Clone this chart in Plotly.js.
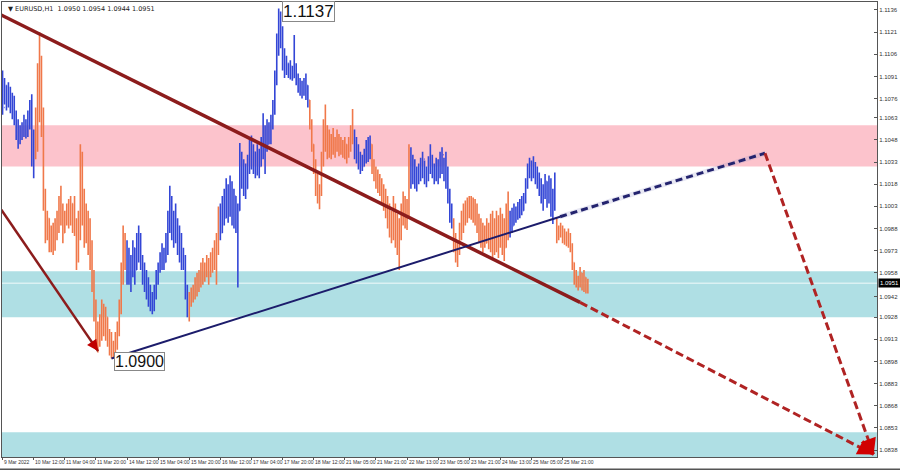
<!DOCTYPE html>
<html><head><meta charset="utf-8">
<script src="https://cdn.plot.ly/plotly-3.0.1.min.js"></script>
<style>html,body{margin:0;padding:0;background:#fff}#chart{width:900px;height:470px}</style>
</head><body><div id="chart"></div>
<script>
// EURUSD H1 bars (index = hourly bar number)
const highs = [
1.1095,1.1090,1.1085,1.1087,1.1084,1.1080,1.1078,1.1068,1.1062,1.1058,1.1060,1.1065,1.1062,1.1068,1.1075,1.1079,1.1055,
1.1070,1.1100,1.1121,1.1105,1.1070,1.1015,1.1000,1.0995,1.0990,1.0992,1.0995,1.1000,1.1010,1.1017,1.1005,1.1000,1.1005,1.1008,1.1010,1.1005,1.1010,1.0995,1.1000,1.1045,1.1040,1.1015,1.1005,1.1000,1.0995,1.0980,1.0960,1.0940,1.0925,1.0930,1.0940,1.0937,1.0935,1.0928,1.0920,1.0918,1.0912,1.0918,1.0925,1.0940,1.0965,1.0990,1.0985,
1.0980,1.0975,1.0970,1.0980,1.0975,1.0985,1.0990,1.0985,1.0970,1.0965,1.0960,1.0955,1.0950,1.0945,1.0950,1.0960,1.0965,1.0972,1.0978,1.0975,1.0985,1.1000,1.1017,1.1010,1.1000,1.1005,1.0995,1.0990,1.0985,1.0975,1.0970,1.0950,
1.0945,1.0948,1.0950,1.0955,1.0958,1.0960,1.0965,1.0968,1.0965,1.0970,1.0968,1.0972,1.0975,1.0980,1.0985,1.1003,
1.1005,1.1010,1.1015,1.1022,1.1018,1.1024,1.1020,1.1015,1.1010,1.1005,1.1046,1.1040,1.1035,1.1032,1.1038,1.1048,1.1051,1.1045,1.1040,1.1045,1.1042,1.1050,1.1066,1.1058,1.1062,1.1060,1.1065,1.1075,1.1095,1.1120,1.1137,1.1135,1.1125,1.1110,1.1105,1.1100,1.1102,1.1098,1.1119,1.1100,1.1093,1.1090,1.1088,1.1090,1.1093,1.1085,
1.1075,1.1062,1.1045,1.1035,1.1025,1.1018,1.1040,1.1062,1.1072,1.1058,1.1055,1.1052,1.1056,1.1050,1.1055,1.1052,1.1050,1.1048,1.1050,1.1045,1.1050,1.1058,1.1069,
1.1055,1.1050,1.1045,1.1040,1.1038,1.1042,1.1048,1.1050,1.1051,
1.1045,1.1035,1.1030,1.1028,1.1025,1.1022,1.1018,1.1015,1.1010,1.1005,1.1000,1.1010,1.1005,1.0998,1.0995,1.1005,1.1013,1.1010,1.1008,1.1045,
1.1043,1.1038,1.1035,1.1030,1.1032,1.1036,1.1040,1.1034,1.1030,1.1037,1.1045,1.1038,1.1032,1.1036,1.1035,1.1040,1.1043,1.1036,1.1040,1.1030,1.1015,1.1005,
1.0995,1.0985,1.0980,1.0992,1.1000,1.1005,1.1007,1.1009,1.1010,1.1010,1.1009,1.1008,1.1005,1.0998,1.0995,1.0992,1.0990,1.0995,1.0992,1.0998,1.1000,1.0995,1.1000,1.0997,1.1002,1.0998,1.0995,1.1005,1.1013,
1.1000,1.1002,1.1005,1.1003,1.1006,1.1008,1.1010,1.1012,1.1022,1.1032,1.1036,1.1034,1.1037,1.1033,1.1030,1.1026,1.1022,1.1018,1.1025,1.1020,1.1024,1.1022,1.1015,1.1026,
1.0995,1.0990,1.0992,1.0990,1.0988,1.0986,1.0988,1.0985,1.0978,1.0965,1.0960,1.0956,1.0962,1.0958,1.0960,1.0955,1.0954
];
const lows = [
1.1065,1.1072,1.1068,1.1070,1.1066,1.1062,1.1058,1.1048,1.1042,1.1045,1.1048,1.1050,1.1049,1.1050,1.1055,1.1030,1.1022,
1.1035,1.1040,1.1060,1.1050,1.1000,1.0978,1.0980,1.0972,1.0972,1.0970,1.0973,1.0980,1.0985,1.0990,1.0978,1.0985,1.0990,1.0988,1.0990,1.0985,1.0983,1.0960,1.0965,1.0980,1.0990,1.0975,1.0978,1.0970,1.0960,1.0945,1.0925,1.0908,1.0904,1.0908,1.0912,1.0915,1.0912,1.0908,1.0902,1.0900,1.0901,1.0903,1.0906,1.0915,1.0930,1.0950,1.0960,
1.0950,1.0950,1.0945,1.0955,1.0950,1.0960,1.0965,1.0960,1.0950,1.0945,1.0940,1.0935,1.0932,1.0930,1.0932,1.0940,1.0950,1.0958,1.0960,1.0960,1.0965,1.0970,1.0985,1.0980,1.0975,1.0978,1.0970,1.0965,1.0960,1.0960,1.0940,1.0928,
1.0925,1.0935,1.0938,1.0940,1.0942,1.0945,1.0948,1.0950,1.0952,1.0955,1.0950,1.0955,1.0958,1.0960,1.0950,1.0970,
1.0980,1.0985,1.0990,1.0995,1.0992,1.0996,1.0990,1.0988,1.0985,1.0948,1.1000,1.1015,1.1010,1.1008,1.1015,1.1025,1.1028,1.1025,1.1022,1.1024,1.1022,1.1030,1.1035,1.1025,1.1040,1.1045,1.1045,1.1055,1.1065,1.1085,1.1105,1.1110,1.1095,1.1090,1.1092,1.1090,1.1089,1.1088,1.1090,1.1085,1.1080,1.1078,1.1076,1.1078,1.1075,1.1070,
1.1055,1.1040,1.1025,1.1010,1.1005,1.1001,1.1010,1.1030,1.1040,1.1035,1.1036,1.1035,1.1038,1.1036,1.1040,1.1037,1.1038,1.1036,1.1035,1.1032,1.1036,1.1040,1.1045,
1.1035,1.1032,1.1028,1.1025,1.1027,1.1030,1.1032,1.1033,1.1035,
1.1025,1.1020,1.1015,1.1012,1.1010,1.1005,1.1000,1.0995,1.0988,1.0982,1.0978,1.0980,1.0975,1.0970,1.0960,1.0980,1.0990,1.0988,1.0987,1.0995,
1.1015,1.1018,1.1015,1.1013,1.1018,1.1020,1.1022,1.1018,1.1016,1.1020,1.1025,1.1022,1.1018,1.1020,1.1018,1.1022,1.1025,1.1020,1.1015,1.1005,1.0992,1.0988,
1.0972,1.0965,1.0962,1.0970,1.0980,1.0985,1.0990,1.0992,1.0995,1.0994,1.0992,1.0990,1.0985,1.0978,1.0975,1.0972,1.0975,1.0978,1.0974,1.0972,1.0968,1.0970,1.0972,1.0968,1.0975,1.0970,1.0966,1.0975,1.0980,
1.0982,1.0985,1.0990,1.0992,1.0994,1.0995,1.0997,1.1000,1.1005,1.1015,1.1022,1.1020,1.1022,1.1018,1.1015,1.1010,1.1005,1.1000,1.1008,1.1002,1.1005,1.0996,1.0991,1.1000,
1.0978,1.0980,1.0982,1.0978,1.0977,1.0976,1.0975,1.0972,1.0960,1.0950,1.0948,1.0946,1.0948,1.0946,1.0945,1.0944,1.0944
];
const opens = [
1.1090,1.1070,1.1085,1.1072,1.1083,1.1070,1.1075,1.1062,1.1052,1.1055,1.1050,1.1057,1.1053,1.1060,1.1065,1.1072,1.1035,
1.1045,1.1065,1.1090,1.1100,1.1058,1.1005,1.0985,1.0995,1.0978,1.0985,1.0975,1.0990,1.0995,1.1005,1.0995,1.0985,1.0995,1.1000,1.0992,1.1005,1.0990,1.0986,1.0968,1.0995,1.1025,1.1000,1.0985,1.0995,1.0975,1.0965,1.0950,1.0930,1.0915,1.0920,1.0925,1.0930,1.0920,1.0928,1.0912,1.0910,1.0905,1.0908,1.0915,1.0920,1.0935,1.0960,1.0980,
1.0965,1.0970,1.0955,1.0965,1.0975,1.0960,1.0980,1.0970,1.0965,1.0955,1.0950,1.0945,1.0940,1.0935,1.0940,1.0945,1.0955,1.0960,1.0968,1.0972,1.0965,1.0980,1.0995,1.1000,1.0990,1.0995,1.0985,1.0975,1.0980,1.0970,1.0965,1.0945,
1.0935,1.0940,1.0945,1.0942,1.0950,1.0948,1.0955,1.0960,1.0955,1.0962,1.0965,1.0958,1.0968,1.0970,1.0975,1.0980,
1.0995,1.0985,1.1005,1.0995,1.1015,1.1000,1.1018,1.0995,1.1010,1.0990,1.1000,1.1035,1.1020,1.1030,1.1015,1.1035,1.1040,1.1032,1.1040,1.1028,1.1040,1.1030,1.1045,1.1040,1.1050,1.1045,1.1055,1.1060,1.1070,1.1090,1.1115,1.1120,1.1115,1.1100,1.1095,1.1100,1.1092,1.1098,1.1090,1.1095,1.1088,1.1085,1.1082,1.1085,1.1080,1.1085,
1.1075,1.1060,1.1045,1.1030,1.1015,1.1010,1.1015,1.1035,1.1055,1.1045,1.1050,1.1040,1.1048,1.1042,1.1045,1.1050,1.1040,1.1045,1.1040,1.1045,1.1038,1.1048,1.1055,
1.1050,1.1040,1.1035,1.1030,1.1035,1.1030,1.1040,1.1045,1.1040,
1.1045,1.1030,1.1025,1.1020,1.1015,1.1020,1.1008,1.1012,1.1000,1.0995,1.0985,1.0995,1.0985,1.0980,1.0975,1.0985,1.1000,1.0995,1.1005,1.1000,
1.1035,1.1025,1.1030,1.1020,1.1025,1.1028,1.1030,1.1035,1.1025,1.1028,1.1032,1.1035,1.1028,1.1025,1.1032,1.1025,1.1035,1.1038,1.1025,1.1020,1.1010,1.0998,
1.0992,1.0978,1.0970,1.0975,1.0988,1.0995,1.1000,1.1005,1.1000,1.1008,1.1002,1.1005,1.0995,1.0990,1.0985,1.0980,1.0985,1.0978,1.0990,1.0980,1.0990,1.0975,1.0988,1.0980,1.0990,1.0982,1.0985,1.0975,1.0995,
1.0990,1.0995,1.0990,1.1000,1.0995,1.1002,1.1005,1.1000,1.1010,1.1020,1.1030,1.1025,1.1032,1.1028,1.1022,1.1025,1.1015,1.1010,1.1015,1.1020,1.1008,1.1018,1.1000,1.1010,
1.0990,1.0985,1.0988,1.0985,1.0982,1.0985,1.0980,1.0982,1.0975,1.0965,1.0955,1.0952,1.0950,1.0958,1.0950,1.0955,1.0950
];
const closes = [
1.1070,1.1085,1.1072,1.1083,1.1070,1.1075,1.1062,1.1052,1.1055,1.1050,1.1057,1.1053,1.1060,1.1065,1.1072,1.1035,1.1045,
1.1065,1.1090,1.1100,1.1058,1.1005,1.0985,1.0995,1.0978,1.0985,1.0975,1.0990,1.0995,1.1005,1.0995,1.0985,1.0995,1.1000,1.0992,1.1005,1.0990,1.0986,1.0968,1.0995,1.1025,1.1000,1.0985,1.0995,1.0975,1.0965,1.0950,1.0930,1.0915,1.0920,1.0925,1.0930,1.0920,1.0928,1.0912,1.0910,1.0905,1.0908,1.0915,1.0920,1.0935,1.0960,1.0980,1.0965,
1.0970,1.0955,1.0965,1.0975,1.0960,1.0980,1.0970,1.0965,1.0955,1.0950,1.0945,1.0940,1.0935,1.0940,1.0945,1.0955,1.0960,1.0968,1.0972,1.0965,1.0980,1.0995,1.1000,1.0990,1.0995,1.0985,1.0975,1.0980,1.0970,1.0965,1.0945,1.0935,
1.0940,1.0945,1.0942,1.0950,1.0948,1.0955,1.0960,1.0955,1.0962,1.0965,1.0958,1.0968,1.0970,1.0975,1.0980,1.0995,
1.0985,1.1005,1.0995,1.1015,1.1000,1.1018,1.0995,1.1010,1.0990,1.1000,1.1035,1.1020,1.1030,1.1015,1.1035,1.1040,1.1032,1.1040,1.1028,1.1040,1.1030,1.1045,1.1040,1.1050,1.1045,1.1055,1.1060,1.1070,1.1090,1.1115,1.1120,1.1115,1.1100,1.1095,1.1100,1.1092,1.1098,1.1090,1.1095,1.1088,1.1085,1.1082,1.1085,1.1080,1.1085,1.1075,
1.1060,1.1045,1.1030,1.1015,1.1010,1.1015,1.1035,1.1055,1.1045,1.1050,1.1040,1.1048,1.1042,1.1045,1.1050,1.1040,1.1045,1.1040,1.1045,1.1038,1.1048,1.1055,1.1050,
1.1040,1.1035,1.1030,1.1035,1.1030,1.1040,1.1045,1.1040,1.1045,
1.1030,1.1025,1.1020,1.1015,1.1020,1.1008,1.1012,1.1000,1.0995,1.0985,1.0995,1.0985,1.0980,1.0975,1.0985,1.1000,1.0995,1.1005,1.1000,1.1035,
1.1025,1.1030,1.1020,1.1025,1.1028,1.1030,1.1035,1.1025,1.1028,1.1032,1.1035,1.1028,1.1025,1.1032,1.1025,1.1035,1.1038,1.1025,1.1020,1.1010,1.0998,1.0992,
1.0978,1.0970,1.0975,1.0988,1.0995,1.1000,1.1005,1.1000,1.1008,1.1002,1.1005,1.0995,1.0990,1.0985,1.0980,1.0985,1.0978,1.0990,1.0980,1.0990,1.0975,1.0988,1.0980,1.0990,1.0982,1.0985,1.0975,1.0995,1.0990,
1.0995,1.0990,1.1000,1.0995,1.1002,1.1005,1.1000,1.1010,1.1020,1.1030,1.1025,1.1032,1.1028,1.1022,1.1025,1.1015,1.1010,1.1015,1.1020,1.1008,1.1018,1.1000,1.1010,1.1005,
1.0985,1.0988,1.0985,1.0982,1.0985,1.0980,1.0982,1.0975,1.0965,1.0955,1.0952,1.0950,1.0958,1.0950,1.0955,1.0950,1.0951
];
// wave colouring: first bar index of each wave and its colour
const waveStarts = [0, 17, 64, 96, 112, 158, 181, 190, 210, 232, 261, 285];
const waveColors = ['#3346d6','#f0784a','#3346d6','#f0784a','#3346d6','#f0784a','#3346d6','#f0784a','#3346d6','#f0784a','#3346d6','#f0784a'];

const timeTickIdx = [0,16,32,48,64,80,96,112,128,144,160,176,192,208,224,240,256,272,288];
const timeTickText = ['9 Mar 2022','10 Mar 12:00','11 Mar 04:00','11 Mar 20:00','14 Mar 12:00','15 Mar 04:00','15 Mar 20:00','16 Mar 12:00','17 Mar 04:00','17 Mar 20:00','18 Mar 12:00','21 Mar 05:00','21 Mar 21:00','22 Mar 13:00','23 Mar 05:00','23 Mar 21:00','24 Mar 13:00','25 Mar 05:00','25 Mar 21:00'];
const priceTicks = [1.1136,1.1121,1.1106,1.1091,1.1076,1.1063,1.1048,1.1033,1.1018,1.1003,1.0988,1.0973,1.0958,1.0942,1.0928,1.0913,1.0898,1.0883,1.0868,1.0853,1.0838];

// zones (price bands)
const resistZone = [1.1030, 1.1058];
const supportZone1 = [1.0928, 1.0959];
const supportZone2 = [1.08333, 1.0850];

// analyst lines: [x (bar index), y (price)]
const trendSolidX = [-1.3, 297.0], trendSolidY = [1.1133, 1.0938];
const trendDashX = [297.0, 448.0], trendDashY = [1.0938, 1.0835];
const leftLineX = [-1.3, 49.1], leftLineY = [1.1002, 1.0905];
const waveSolidX = [56, 286.7], waveSolidY = [1.0900, 1.0996];
const waveDashX = [286.7, 392.1], waveDashY = [1.0996, 1.1039];
const forecastX = [392.1, 448.0], forecastY = [1.1039, 1.0835];

const N = highs.length;
if (lows.length !== N || opens.length !== N || closes.length !== N) {
  throw new Error('length mismatch ' + [highs.length, lows.length, opens.length, closes.length].join(','));
}

const traces = [];
for (let k = 0; k < waveStarts.length; k++) {
  const s = waveStarts[k], e = (k + 1 < waveStarts.length) ? waveStarts[k + 1] : N;
  const xs = [];
  for (let i = s; i < e; i++) xs.push(i);
  traces.push({
    type: 'ohlc', x: xs,
    open: opens.slice(s, e), high: highs.slice(s, e), low: lows.slice(s, e), close: closes.slice(s, e),
    increasing: {line: {color: waveColors[k], width: 1.6}},
    decreasing: {line: {color: waveColors[k], width: 1.6}},
    tickwidth: 0.3, hoverinfo: 'skip', showlegend: false
  });
}
function lineTrace(x, y, color, width, dash) {
  return {type: 'scatter', mode: 'lines', x: x, y: y, hoverinfo: 'skip', showlegend: false,
          line: {color: color, width: width, dash: dash || 'solid'}};
}
traces.push(lineTrace(waveDashX, waveDashY, 'rgba(150,150,200,0.22)', 5));
traces.push(lineTrace(trendSolidX, trendSolidY, '#8c1c1c', 3.5));
traces.push(lineTrace(trendDashX, trendDashY, '#b02323', 3, '8px,4px'));
traces.push(lineTrace(leftLineX, leftLineY, '#8c1c1c', 2.5));
traces.push(lineTrace(waveSolidX, waveSolidY, '#1c1c6b', 2));
traces.push(lineTrace(waveDashX, waveDashY, '#23236e', 3, '7px,4px'));
traces.push(lineTrace(forecastX, forecastY, '#b02323', 3, '8px,4px'));

function arrowHead(lx, ly, frac, color, width, size) {
  const x1 = lx[1], y1 = ly[1];
  return {x: x1, y: y1, ax: x1 - (x1 - lx[0]) * frac, ay: y1 - (y1 - ly[0]) * frac,
          xref: 'x', yref: 'y', axref: 'x', ayref: 'y', text: '', showarrow: true,
          arrowhead: 2, arrowsize: size, arrowwidth: width, arrowcolor: color, standoff: 0};
}

let hiIdx = 0, loIdx = 0;
for (let i = 0; i < N; i++) { if (highs[i] > highs[hiIdx]) hiIdx = i; if (lows[i] < lows[loIdx]) loIdx = i; }
const last = N - 1;
const f4 = v => v.toFixed(4);

const annotations = [
  arrowHead(trendDashX, trendDashY, 0.04, '#d10000', 3.2, 1),
  arrowHead(forecastX, forecastY, 0.04, '#d10000', 3.2, 1),
  arrowHead(leftLineX, leftLineY, 0.06, '#c00000', 2.5, 0.9),
  {x: hiIdx, y: highs[hiIdx], xref: 'x', yref: 'y', text: f4(highs[hiIdx]), showarrow: false,
   xanchor: 'left', yanchor: 'middle', xshift: 3, yshift: -3, bgcolor: '#ffffff', bordercolor: '#888', borderwidth: 1, borderpad: 0,
   font: {family: 'Liberation Sans, Arial, sans-serif', size: 17, color: '#111'}},
  {x: loIdx, y: lows[loIdx], xref: 'x', yref: 'y', text: f4(lows[loIdx]), showarrow: false,
   xanchor: 'left', yanchor: 'middle', xshift: 3, yshift: -3, bgcolor: '#ffffff', bordercolor: '#888', borderwidth: 1, borderpad: 0,
   font: {family: 'Liberation Sans, Arial, sans-serif', size: 16, color: '#111'}},
  {x: 0.004, y: 0.998, xref: 'paper', yref: 'paper', xanchor: 'left', yanchor: 'top', showarrow: false,
   text: '\u25BC EURUSD,H1  ' + [opens[last], highs[last], lows[last], closes[last]].map(f4).join(' '),
   font: {family: 'DejaVu Sans, sans-serif', size: 6.5, color: '#222'}},
  {x: 1, y: closes[last], xref: 'paper', yref: 'y', xanchor: 'left', yanchor: 'middle', showarrow: false, xshift: 1,
   text: f4(closes[last]), bgcolor: '#000', borderpad: 1, font: {family: 'Liberation Sans, Arial, sans-serif', size: 6, color: '#fff'}}
];
// time labels, drawn to the right of each tick like the terminal does
timeTickIdx.forEach((v, j) => {
  annotations.push({x: v, y: 0, xref: 'x', yref: 'paper', xanchor: 'left', yanchor: 'top', yshift: -1, xshift: 0.5,
    showarrow: false, text: timeTickText[j], borderpad: 0,
    font: {family: 'Liberation Sans, Arial, sans-serif', size: 5, color: '#333'}});
});

const shapes = [
  {type: 'rect', xref: 'paper', yref: 'y', x0: 0, x1: 1, y0: resistZone[0], y1: resistZone[1], fillcolor: '#fcc3cc', line: {width: 0}, layer: 'below'},
  {type: 'rect', xref: 'paper', yref: 'y', x0: 0, x1: 1, y0: supportZone1[0], y1: supportZone1[1], fillcolor: '#afdfe4', line: {width: 0}, layer: 'below'},
  {type: 'rect', xref: 'paper', yref: 'y', x0: 0, x1: 1, y0: supportZone2[0], y1: supportZone2[1], fillcolor: '#afdfe4', line: {width: 0}, layer: 'below'},
  {type: 'line', xref: 'paper', yref: 'y', x0: 0, x1: 1, y0: closes[last], y1: closes[last], line: {color: 'rgba(255,255,255,0.55)', width: 1.5}, layer: 'below'},
  {type: 'line', xref: 'paper', yref: 'paper', x0: -0.01, x1: 1.03, y0: -0.027, y1: -0.027, line: {color: '#555', width: 1.5}}
];

const layout = {
  width: 900, height: 470,
  margin: {l: 2, r: 23, t: 2, b: 13},
  paper_bgcolor: '#ffffff', plot_bgcolor: '#ffffff',
  showlegend: false, hovermode: false,
  xaxis: {range: [-0.3, 449.7], rangeslider: {visible: false}, showgrid: false, zeroline: false,
          tickmode: 'array', tickvals: timeTickIdx, showticklabels: false, ticks: 'outside', ticklen: 2,
          tickcolor: '#555',
          showline: true, linecolor: '#555', linewidth: 1, mirror: true, fixedrange: true},
  yaxis: {range: [1.08333, 1.11414], side: 'right', showgrid: false, zeroline: false,
          tickmode: 'array', tickvals: priceTicks, ticktext: priceTicks.map(f4), ticks: 'inside', ticklen: 3,
          tickcolor: '#555', ticklabelstandoff: 0, tickfont: {family: 'Liberation Sans, Arial, sans-serif', size: 6, color: '#333'},
          showline: true, linecolor: '#555', linewidth: 1, mirror: true, fixedrange: true},
  shapes: shapes, annotations: annotations
};

Plotly.newPlot('chart', traces, layout, {staticPlot: true, displayModeBar: false});
</script>
</body></html>
